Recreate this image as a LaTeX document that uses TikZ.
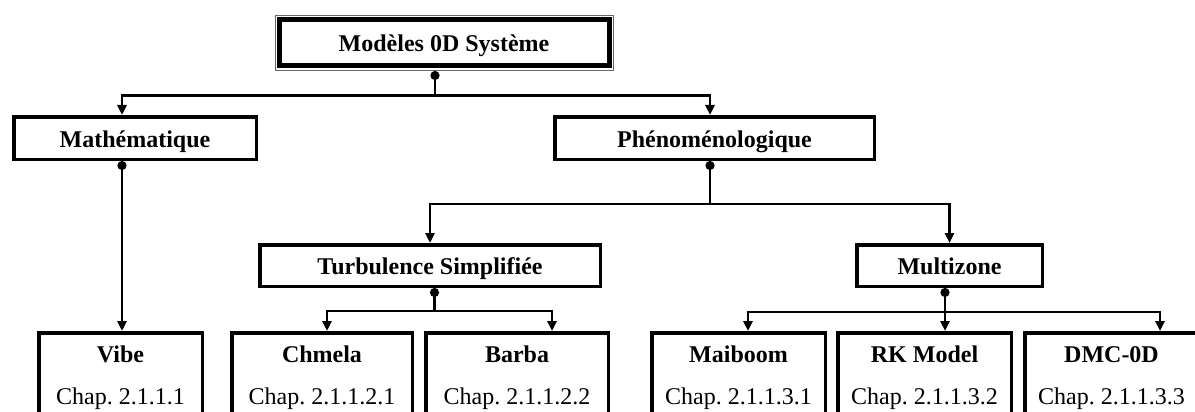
\documentclass[tikz,border=0pt]{standalone}
\usepackage{fontspec}
\setmainfont{Liberation Serif}
\usetikzlibrary{arrows.meta}
\frenchspacing
\begin{document}
\begin{tikzpicture}[x=1pt,y=-1pt,
  box/.style={draw, line width=3.5pt, inner sep=0pt, text height=18pt, text depth=0pt,
    font=\fontsize{24}{28}\selectfont\bfseries},
  leaf/.style={draw, line width=3.5pt, inner sep=0pt, anchor=north, minimum height=120pt},
  leafname/.style={anchor=base, inner sep=0pt, font=\fontsize{24}{28}\selectfont\bfseries},
  leafref/.style={anchor=base, inner sep=0pt, font=\fontsize{24}{28}\selectfont},
  link/.style={line width=2.6pt, line join=miter, -{Triangle[width=9pt,length=10pt]}},
  dlink/.style={line width=2.6pt, {Circle[length=9pt]}-{Triangle[width=9pt,length=10pt]}},
  dline/.style={line width=2.6pt, {Circle[length=9pt]}-},
]
\useasboundingbox (0,0) rectangle (1195,412);
\clip (0,0) rectangle (1195,412);

% top
\node[draw, line width=1pt, draw=black!60, minimum width=338pt, minimum height=55pt, inner sep=0pt] (topframe) at (444,43) {};
\node[box, line width=5pt, minimum width=330pt, minimum height=46pt] (top) at (444,43) {Modèles 0D Système};

% level 1
\node[box, minimum width=242.5pt, minimum height=42.5pt] (math) at (135,138) {Mathématique};
\node[box, minimum width=319.5pt, minimum height=42.5pt] (pheno) at (714.5,138) {Phénoménologique};

% level 2
\node[box, minimum width=340.5pt, minimum height=41.5pt] (turb) at (430,265.5) {Turbulence Simplifiée};
\node[box, minimum width=185.5pt, minimum height=41.5pt] (multi) at (949.5,265.5) {Multizone};

% leaves
\node[leaf, minimum width=163.5pt] (vibe) at (120.5,331) {};
\node[leafname] (vibeN) at ([yshift=-31pt]vibe.north) {Vibe};
\node[leafref] (vibeR) at ([yshift=-73pt]vibe.north) {Chap. 2.1.1.1};

\node[leaf, minimum width=180.5pt] (chmela) at (322,331) {};
\node[leafname] (chmelaN) at ([yshift=-31pt]chmela.north) {Chmela};
\node[leafref] (chmelaR) at ([yshift=-73pt]chmela.north) {Chap. 2.1.1.2.1};

\node[leaf, minimum width=182.5pt] (barba) at (517,331) {};
\node[leafname] (barbaN) at ([yshift=-31pt]barba.north) {Barba};
\node[leafref] (barbaR) at ([yshift=-73pt]barba.north) {Chap. 2.1.1.2.2};

\node[leaf, minimum width=173.5pt] (maiboom) at (738.5,331) {};
\node[leafname] (maiboomN) at ([yshift=-31pt]maiboom.north) {Maiboom};
\node[leafref] (maiboomR) at ([yshift=-73pt]maiboom.north) {Chap. 2.1.1.3.1};

\node[leaf, minimum width=173.5pt] (rk) at (924.5,331) {};
\node[leafname] (rkN) at ([yshift=-31pt]rk.north) {RK Model};
\node[leafref] (rkR) at ([yshift=-73pt]rk.north) {Chap. 2.1.1.3.2};

\node[leaf, minimum width=173.5pt] (dmc) at (1111.5,331) {};
\node[leafname] (dmcN) at ([yshift=-31pt]dmc.north) {DMC-0D};
\node[leafref] (dmcR) at ([yshift=-73pt]dmc.north) {Chap. 2.1.1.3.3};

% connectors
\draw[dline] ([xshift=-9pt]topframe.south) -- ++(0,24.5) coordinate (j1);
\draw[link] (j1) -| ([xshift=-13pt]math.north);
\draw[link] (j1) -| ([xshift=-4.5pt]pheno.north);

\draw[dlink] ([xshift=-13pt]math.south) -- ([xshift=-13pt]math.south |- vibe.north);

\draw[dline] ([xshift=-4.5pt]pheno.south) -- ++(0,43) coordinate (j2);
\draw[link] (j2) -| (turb.north);
\draw[link] (j2) -| (multi.north);

\draw[dline] ([xshift=4.5pt]turb.south) -- ++(0,23) coordinate (j3);
\draw[link] (j3) -| ([xshift=5pt]chmela.north);
\draw[link] (j3) -| ([xshift=35pt]barba.north);

\draw[dlink] ([xshift=-4.5pt]multi.south) -- ([xshift=-4.5pt]multi.south |- rk.north);
\coordinate (j4) at ([xshift=-4.5pt,yshift=-24pt]multi.south);
\draw[link] (j4) -| ([xshift=9.5pt]maiboom.north);
\draw[link] (j4) -| ([xshift=48.5pt]dmc.north);
\end{tikzpicture}
\end{document}
